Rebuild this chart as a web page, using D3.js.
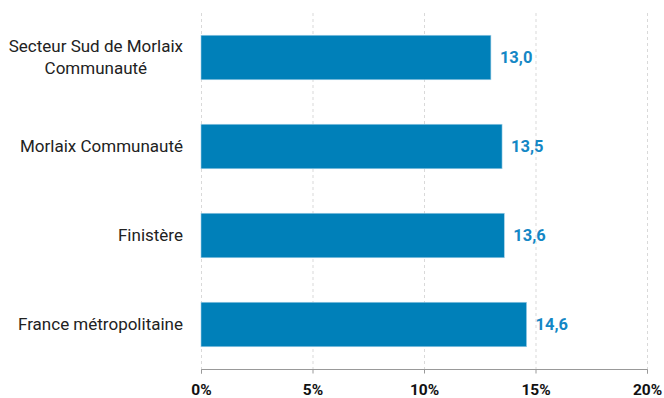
<!DOCTYPE html>
<html><head><meta charset="utf-8">
<script src="https://cdn.jsdelivr.net/npm/d3@7"></script>
<style>body{margin:0;background:#fff}svg{display:block}</style>
</head><body>
<svg id="c" width="664" height="398"></svg>
<script>
const categories = [["Secteur Sud de Morlaix","Communauté"],["Morlaix Communauté"],["Finistère"],["France métropolitaine"]];
const values = [13.0, 13.5, 13.6, 14.6];
const tickValues = [0, 5, 10, 15, 20];
const tickLabels = ["0%", "5%", "10%", "15%", "20%"];

const svg = d3.select("#c");
const x = d3.scaleLinear().domain([0, 20]).range([201, 647]);
const y = d3.scaleBand().domain(d3.range(categories.length)).range([13, 369]).paddingInner(0.5).paddingOuter(0.25);

// grid
svg.append("g").selectAll("line").data(tickValues).join("line")
  .attr("x1", d => x(d) + 0.5).attr("x2", d => x(d) + 0.5)
  .attr("y1", 13).attr("y2", 369)
  .attr("stroke", "#d9d9d9").attr("stroke-dasharray", "3,3").attr("stroke-width", 1);

// bars
svg.append("g").selectAll("rect").data(values).join("rect")
  .attr("x", x(0)).attr("y", (d, i) => y(i))
  .attr("width", d => x(d) - x(0)).attr("height", y.bandwidth())
  .attr("fill", "#0080b9").attr("stroke", "#9fcde6").attr("stroke-width", 0.6);

// value labels
svg.append("g").selectAll("text").data(values).join("text")
  .attr("x", d => x(d) + 9).attr("y", (d, i) => y(i) + y.bandwidth() / 2)
  .attr("dy", "0.35em")
  .attr("font-family", "Roboto").attr("font-weight", "bold").attr("font-size", 16.5)
  .attr("fill", "#1487c5")
  .text(d => d.toFixed(1).replace(".", ","));

// category labels (block right-aligned at 183, lines centered within block)
const cl = svg.append("g").selectAll("text").data(categories).join("text")
  .attr("font-family", "Roboto").attr("font-size", 17).attr("fill", "#222");
cl.each(function(lines, i) {
  const t = d3.select(this);
  const cy = y(i) + y.bandwidth() / 2;
  const lh = 22;
  const spans = lines.map((s, k) => t.append("tspan")
      .attr("y", cy + (k - (lines.length - 1) / 2) * lh)
      .attr("dy", "0.35em").text(s));
  const w = d3.max(spans, sp => sp.node().getComputedTextLength());
  const cx = 183 - w / 2;
  spans.forEach(sp => sp.attr("x", cx).attr("text-anchor", "middle"));
  t.attr("text-anchor", "middle");
});

// x axis
const ax = svg.append("g").attr("transform", "translate(0,369.5)")
  .call(d3.axisBottom(x).tickValues(tickValues).tickFormat((d, i) => tickLabels[i]).tickSize(4).tickPadding(10));
ax.select(".domain").attr("stroke", "#999").attr("d", `M${x(0)+0.5},4V0H${x(20)+0.5}V4`);
ax.selectAll(".tick line").attr("stroke", "#999");
ax.selectAll(".tick text").attr("font-family", "Roboto").attr("font-weight", "bold").attr("font-size", 15.5).attr("fill", "#111");
</script>
</body></html>
